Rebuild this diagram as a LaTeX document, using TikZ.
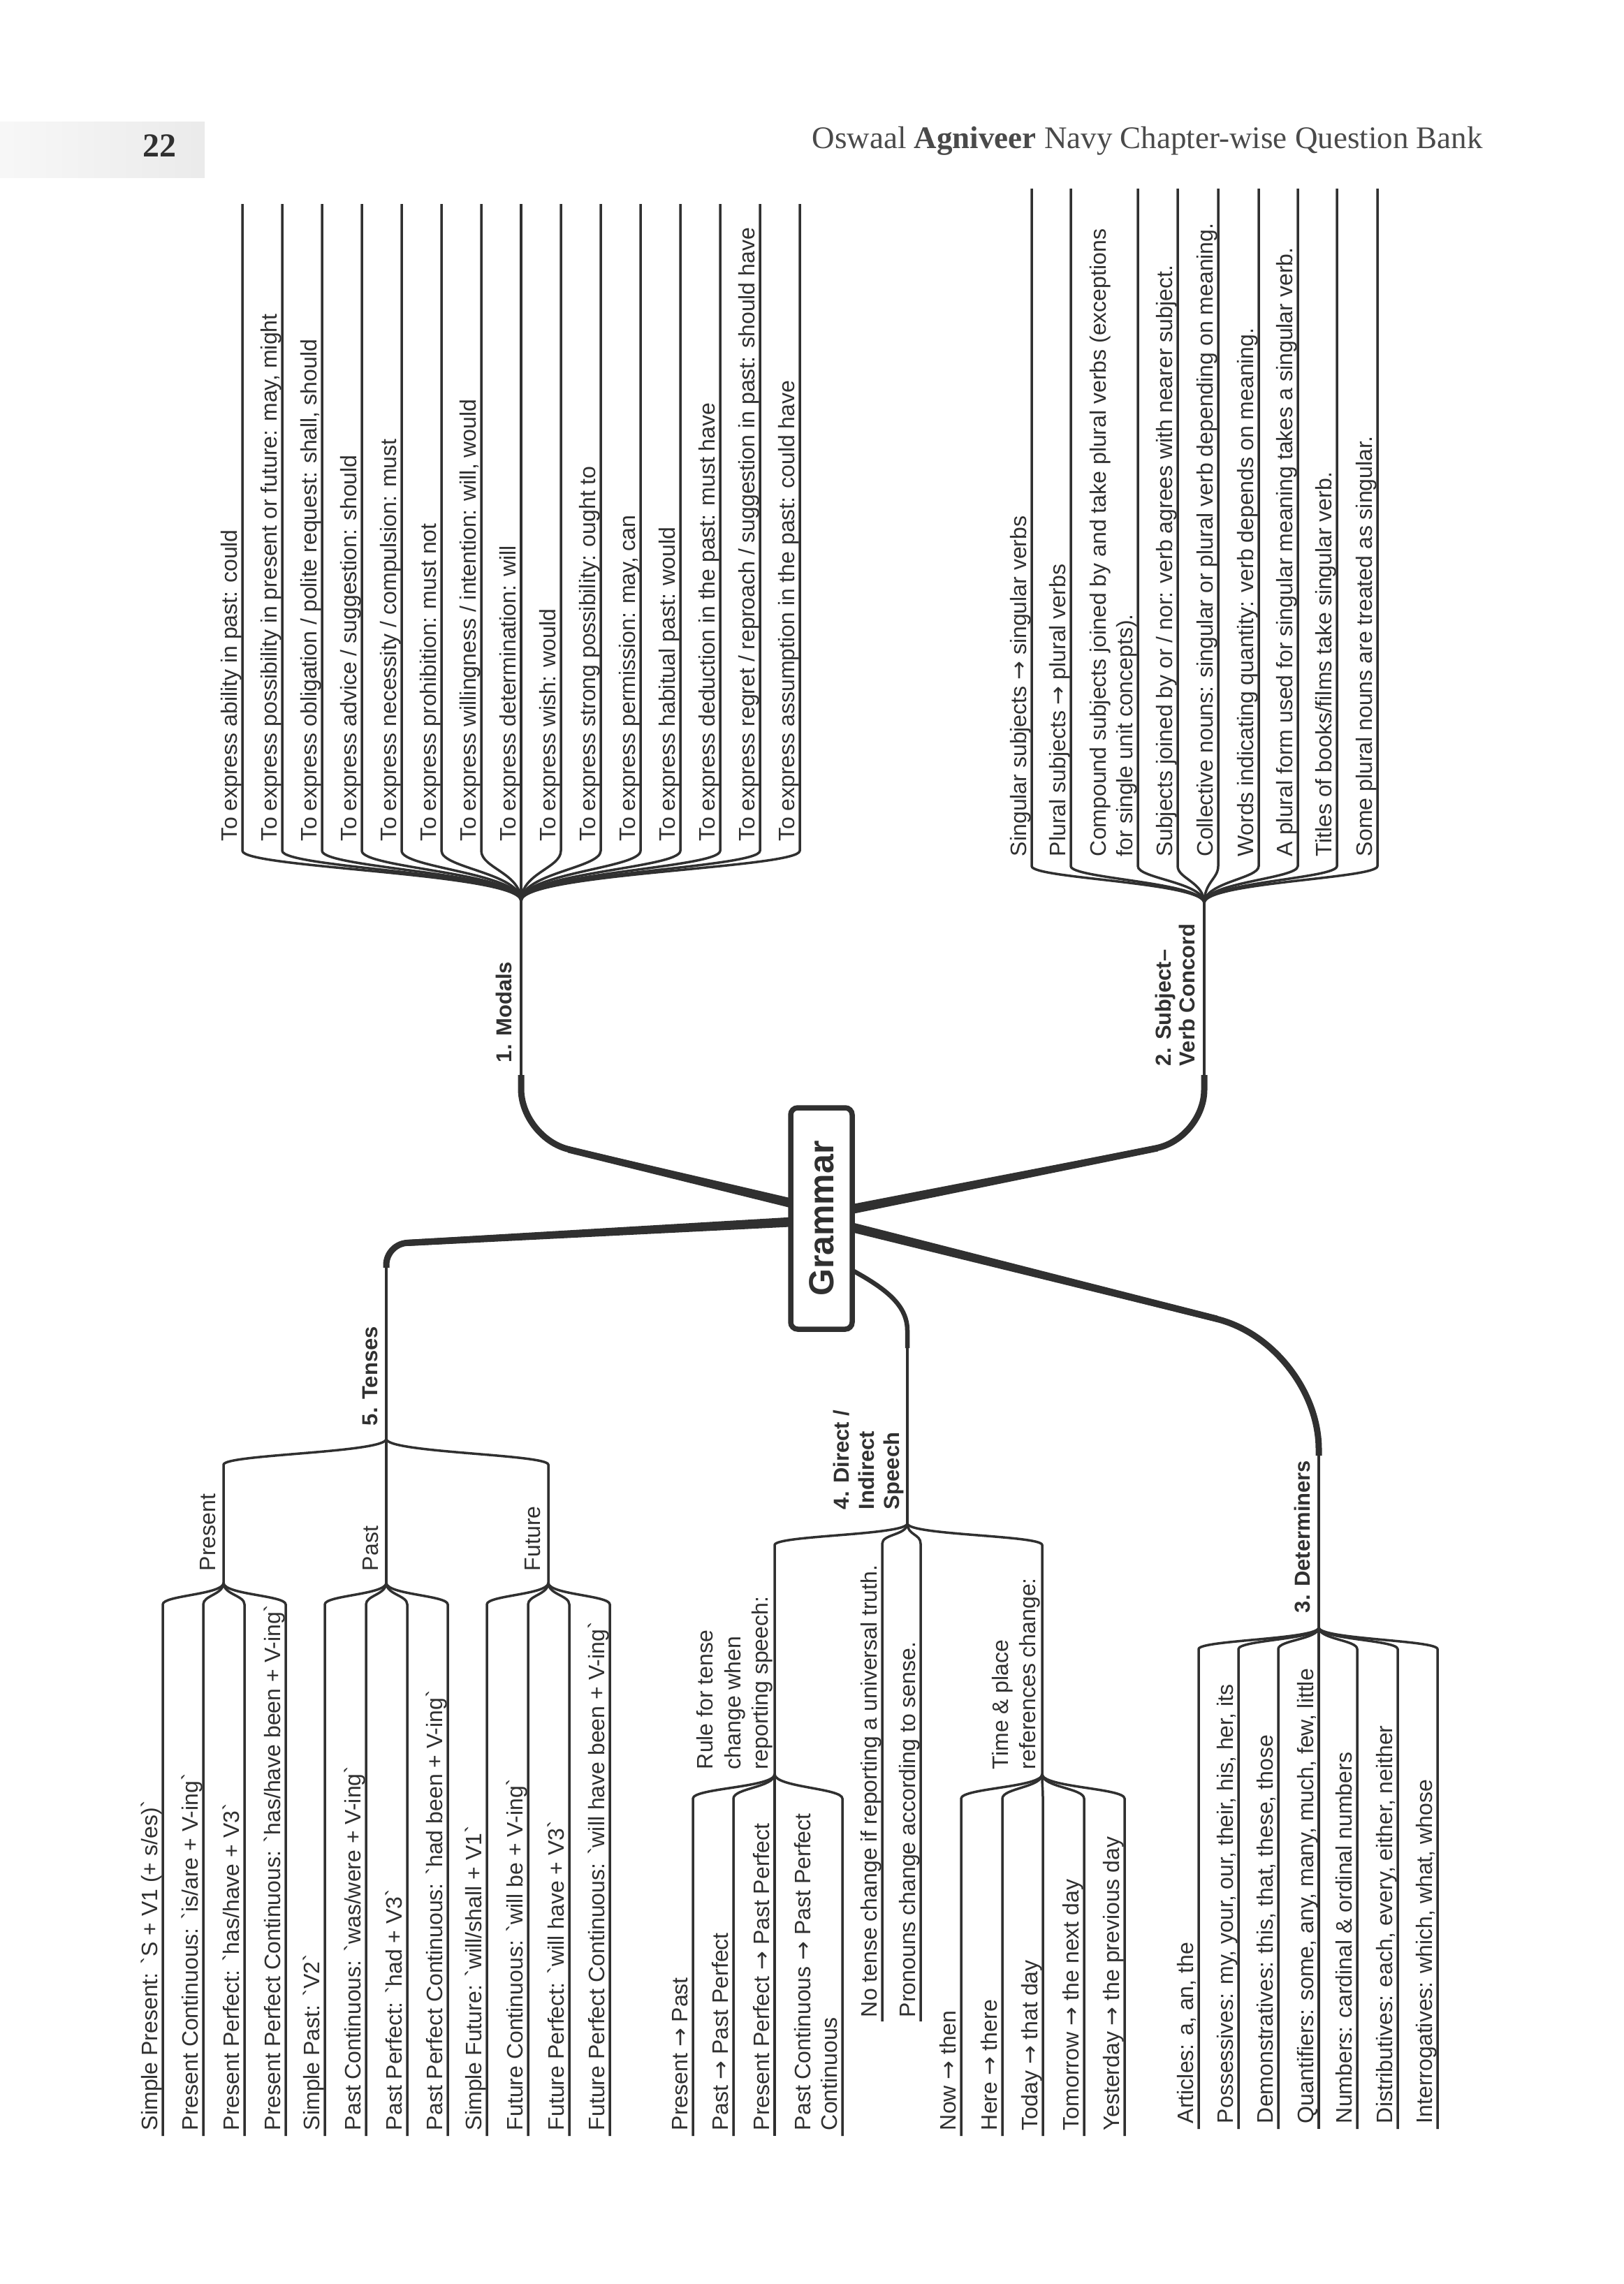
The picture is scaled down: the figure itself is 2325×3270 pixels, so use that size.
\documentclass[tikz,border=0pt]{standalone}
\usepackage{fontspec}
\setmainfont{Liberation Sans}
\newfontfamily\lfont[Ligatures=TeXOff]{Liberation Sans}
\newfontfamily\hfont{Liberation Serif}
\newfontfamily\arrfont{DejaVu Sans}
\newcommand{\myarr}{{\arrfont\char"2192}}
\definecolor{ink}{HTML}{303030}
\definecolor{headink}{HTML}{4A4A4A}
\tikzset{
  leaf/.style={font=\lfont\fontsize{32}{38}\selectfont, text=ink, rotate=90, anchor=base west, inner sep=0pt, outer sep=0pt},
  lab/.style={font=\lfont\bfseries\fontsize{31}{37}\selectfont, text=ink, rotate=90, anchor=base west, inner sep=0pt, outer sep=0pt},
  twig/.style={draw=ink, line width=3.5pt},
  limb/.style={draw=ink, line width=9pt},
  taper/.style={fill=ink, draw=none},
}
\begin{document}
\begin{tikzpicture}[x=1pt,y=1pt]
\useasboundingbox (0,0) rectangle (2325,-3270);
\fill[white] (0,0) rectangle (2325,-3270);

% ---------- header ----------
\shade[left color=black!3, right color=black!8] (0,-175) rectangle (293,-254);
\node[font=\hfont\bfseries\fontsize{48}{50}\selectfont, text=ink, anchor=base, inner sep=0pt] (pagenum) at (228,-225) {22};
\node[font=\hfont\fontsize{45}{50}\selectfont, text=headink, anchor=base east, inner sep=0pt] (title) at (2123,-213) {Oswaal \textbf{Agniveer} Navy Chapter-wise Question Bank};

% ---------- hubs and main coordinates ----------
\coordinate (mhub) at (746,-1290);
\coordinate (modthin) at (746,-1539);
\coordinate (modcorner) at (746,-1629);
\coordinate (gM) at (1160,-1729);

\coordinate (svhub) at (1724,-1293);
\coordinate (svthin) at (1724,-1539);
\coordinate (svcorner) at (1724,-1630);
\coordinate (gS) at (1195,-1736);

\coordinate (gT) at (1160,-1748);
\coordinate (tcorner) at (553,-1781);
\coordinate (tthick) at (553,-1815);
\coordinate (thub) at (553,-2060);

\coordinate (gD) at (1195,-1751);
\coordinate (dcorner) at (1888,-1925);
\coordinate (dthick) at (1888,-2084);
\coordinate (dhub) at (1888,-2330);

\coordinate (gDI) at (1200,-1808);
\coordinate (dibend) at (1299,-1905);
\coordinate (dithick) at (1299,-1930);
\coordinate (dihub) at (1299,-2181);

% ---------- main limbs ----------
\draw[twig] (mhub) -- (modthin);
\draw[limb, rounded corners=70pt] (modthin) -- (modcorner) -- (gM);
\fill[taper] (815.05,-1641.62) -- (1161.63,-1722.19) -- (1158.37,-1735.81) -- (812.95,-1650.38) -- cycle;
\draw[twig] (svhub) -- (svthin);
\draw[limb, rounded corners=70pt] (svthin) -- (svcorner) -- (gS);
\fill[taper] (1656.12,-1639.59) -- (1193.63,-1729.13) -- (1196.37,-1742.87) -- (1657.88,-1648.41) -- cycle;
\draw[limb, rounded corners=30pt] (gT) -- (tcorner) -- (tthick);
\fill[taper] (582.75,-1775.01) -- (1159.62,-1741.01) -- (1160.38,-1754.99) -- (583.25,-1783.99) -- cycle;
\draw[twig] (tthick) -- (thub);
\draw[limb, rounded corners=150pt] (gD) -- (dcorner) -- (dthick);
\fill[taper] (1743.1,-1883.63) -- (1196.7,-1744.21) -- (1193.3,-1757.79) -- (1740.9,-1892.37) -- cycle;
\draw[twig] (dthick) -- (dhub);
\draw[draw=ink, line width=6.5pt] (gDI) .. controls (1262,-1840) and (1299,-1865) .. (dibend) -- (dithick);
\draw[twig] (dithick) -- (dihub);

% ---------- central box ----------
\node[draw=ink, line width=7.5pt, fill=white, rounded corners=10pt, rotate=90,
      minimum width=317pt, minimum height=88pt, inner sep=0pt,
      font=\lfont\bfseries\fontsize{50}{56}\selectfont, text=ink] (grammar) at (1176,-1744.5) {Grammar};

% ---------- branch labels ----------
\node[lab] (lmod) at (732,-1521) {1. Modals};
\node[lab] (lsv1) at (1676,-1526) {2. Subject–};
\node[lab] (lsv2) at (1710,-1526) {Verb Concord};
\node[lab] (lten) at (540,-2041) {5. Tenses};
\node[lab] (ldi1) at (1215,-2161) {4. Direct /};
\node[lab] (ldi2) at (1251,-2161) {Indirect};
\node[lab] (ldi3) at (1287,-2161) {Speech};
\node[lab] (ldet) at (1875,-2309) {3. Determiners};

% ---------- 1. Modals fan ----------
\foreach \x/\n/\t in {
 347/0/{To express ability in past: could},
 404/1/{To express possibility in present or future: may, might},
 461/2/{To express obligation / polite request: shall, should},
 518/3/{To express advice / suggestion: should},
 575/4/{To express necessity / compulsion: must},
 632/5/{To express prohibition: must not},
 689/6/{To express willingness / intention: will, would},
 746/7/{To express determination: will},
 803/8/{To express wish: would},
 860/9/{To express strong possibility: ought to},
 917/10/{To express permission: may, can},
 974/11/{To express habitual past: would},
 1031/12/{To express deduction in the past: must have},
 1088/13/{To express regret / reproach / suggestion in past: should have},
 1145/14/{To express assumption in the past: could have}}{
  \coordinate (mt\n) at (\x,-292);
  \coordinate (mb\n) at (\x,-1218);
  \draw[twig] (mt\n) -- (mb\n) .. controls +(0,-25) and +(0,40) .. (mhub);
  \node[leaf] (mx\n) at (\x-8,-1204) {\t};
}

% ---------- 2. Subject-Verb Concord fan ----------
\foreach \x/\n/\t in {
 1477/0/{Singular subjects \myarr\ singular verbs},
 1533/1/{Plural subjects \myarr\ plural verbs},
 1629/2/{for single unit concepts).},
 1686/3/{Subjects joined by or / nor: verb agrees with nearer subject.},
 1744/4/{Collective nouns: singular or plural verb depending on meaning.},
 1802/5/{Words indicating quantity: verb depends on meaning.},
 1858/6/{A plural form used for singular meaning takes a singular verb.},
 1914/7/{Titles of books/films take singular verb.},
 1972/8/{Some plural nouns are treated as singular.}}{
  \coordinate (st\n) at (\x,-270);
  \coordinate (sb\n) at (\x,-1240);
  \draw[twig] (st\n) -- (sb\n) .. controls +(0,-18) and +(0,30) .. (svhub);
  \node[leaf] (sx\n) at (\x-8,-1226) {\t};
}
\node[leaf] (sx2a) at (1583,-1226) {Compound subjects joined by and take plural verbs (exceptions};

% ---------- 5. Tenses ----------
\coordinate (tPre) at (320,-2097);
\coordinate (tFut) at (785,-2097);
\coordinate (hPre) at (320,-2266);
\coordinate (hPas) at (553,-2266);
\coordinate (hFut) at (785,-2266);
\draw[twig] (thub) .. controls +(0,-20) and +(0,15) .. (tPre) -- (hPre);
\draw[twig] (thub) -- (hPas);
\draw[twig] (thub) .. controls +(0,-20) and +(0,15) .. (tFut) -- (hFut);
\node[leaf] (lpre) at (308,-2249) {Present};
\node[leaf] (lpas) at (541,-2249) {Past};
\node[leaf] (lfut) at (773,-2249) {Future};

\foreach \x/\h/\n/\t in {
 233/hPre/0/{Simple Present: `S + V1 (+ s/es)`},
 291/hPre/1/{Present Continuous: `is/are + V-ing`},
 350/hPre/2/{Present Perfect: `has/have + V3`},
 409/hPre/3/{Present Perfect Continuous: `has/have been + V-ing`},
 465/hPas/4/{Simple Past: `V2`},
 524/hPas/5/{Past Continuous: `was/were + V-ing`},
 583/hPas/6/{Past Perfect: `had + V3`},
 641/hPas/7/{Past Perfect Continuous: `had been + V-ing`},
 697/hFut/8/{Simple Future: `will/shall + V1`},
 756/hFut/9/{Future Continuous: `will be + V-ing`},
 815/hFut/10/{Future Perfect: `will have + V3`},
 873/hFut/11/{Future Perfect Continuous: `will have been + V-ing`}}{
  \coordinate (tt\n) at (\x,-2297);
  \coordinate (tb\n) at (\x,-3058);
  \draw[twig] (\h) .. controls +(0,-17) and +(0,13) .. (tt\n) -- (tb\n);
  \node[leaf] (tx\n) at (\x-8,-3050) {\t};
}

% ---------- 4. Direct / Indirect Speech ----------
\coordinate (diR) at (1109,-2212);
\coordinate (diN) at (1263,-2210);
\coordinate (diP) at (1318,-2210);
\coordinate (diT) at (1492,-2212);
\coordinate (hRule) at (1109,-2540);
\coordinate (hTime) at (1492,-2540);
\coordinate (diNb) at (1263,-2894);
\coordinate (diPb) at (1318,-2894);
\draw[twig] (dihub) .. controls +(0,-17) and +(0,14) .. (diR) -- (hRule);
\draw[twig] (dihub) .. controls +(0,-17) and +(0,14) .. (diN) -- (diNb);
\draw[twig] (dihub) .. controls +(0,-17) and +(0,14) .. (diP) -- (diPb);
\draw[twig] (dihub) .. controls +(0,-17) and +(0,14) .. (diT) -- (hTime);
\node[leaf] (dnt) at (1255,-2888) {No tense change if reporting a universal truth.};
\node[leaf] (dpr) at (1310,-2888) {Pronouns change according to sense.};
\node[leaf] (lr1) at (1020,-2533) {Rule for tense};
\node[leaf] (lr2) at (1060,-2533) {change when};
\node[leaf] (lr3) at (1099,-2533) {reporting speech:};
\node[leaf] (lt1) at (1443,-2533) {Time \& place};
\node[leaf] (lt2) at (1482,-2533) {references change:};

\foreach \x/\h/\n/\t in {
 992/hRule/0/{Present \myarr\ Past},
 1050/hRule/1/{Past \myarr\ Past Perfect},
 1109/hRule/2/{Present Perfect \myarr\ Past Perfect},
 1206/hRule/3/{Continuous},
 1376/hTime/4/{Now \myarr\ then},
 1435/hTime/5/{Here \myarr\ there},
 1493/hTime/6/{Today \myarr\ that day},
 1552/hTime/7/{Tomorrow \myarr\ the next day},
 1610/hTime/8/{Yesterday \myarr\ the previous day}}{
  \coordinate (rt\n) at (\x,-2575);
  \coordinate (rb\n) at (\x,-3058);
  \draw[twig] (\h) .. controls +(0,-19) and +(0,15) .. (rt\n) -- (rb\n);
  \node[leaf] (rx\n) at (\x-8,-3050) {\t};
}
\node[leaf] (rx3a) at (1160,-3050) {Past Continuous \myarr\ Past Perfect};

% ---------- 3. Determiners ----------
\foreach \x/\n/\t in {
 1716/0/{Articles: a, an, the},
 1773/1/{Possessives: my, your, our, their, his, her, its},
 1830/2/{Demonstratives: this, that, these, those},
 1888/3/{Quantifiers: some, any, many, much, few, little},
 1943/4/{Numbers: cardinal \& ordinal numbers},
 2001/5/{Distributives: each, every, either, neither},
 2058/6/{Interrogatives: which, what, whose}}{
  \coordinate (dt\n) at (\x,-2361);
  \coordinate (db\n) at (\x,-3048);
  \draw[twig] (dhub) .. controls +(0,-17) and +(0,13) .. (dt\n) -- (db\n);
  \node[leaf] (dx\n) at (\x-8,-3040) {\t};
}
\end{tikzpicture}
\end{document}
